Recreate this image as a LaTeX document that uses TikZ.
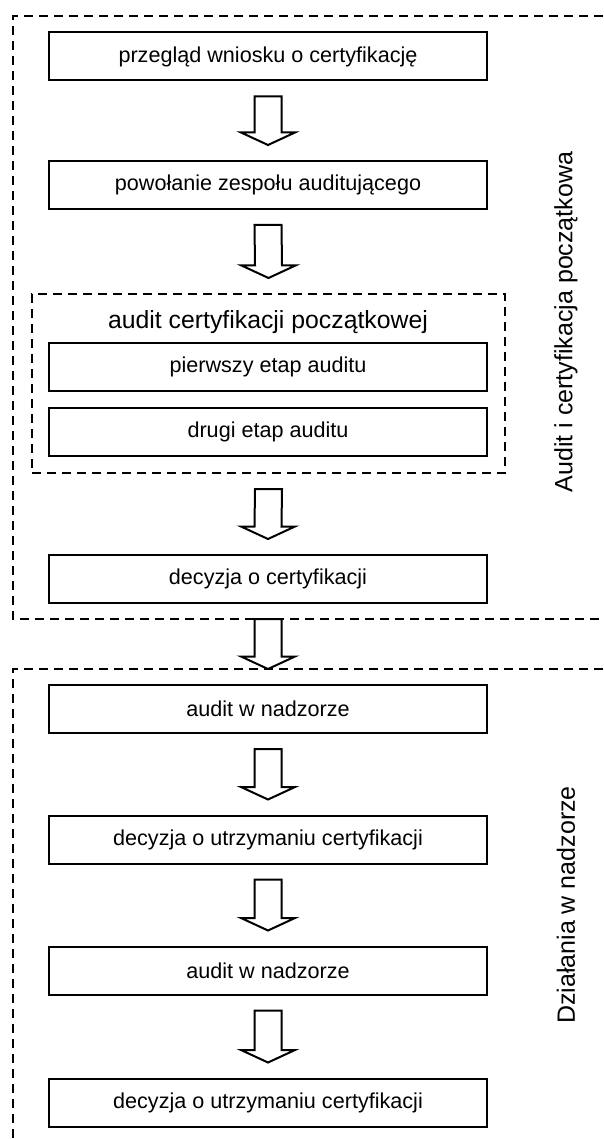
\documentclass[tikz,border=0pt]{standalone}
\usepackage{fontspec}
\setmainfont{Liberation Sans}
\usetikzlibrary{calc, positioning}

% hollow block arrow between two nodes
\newcommand{\blockarrow}[2]{%
    \coordinate (arrtop) at ($(#1.south)+(0,-15)$);
    \coordinate (arrtip) at ($(#2.north)+(0,15)$);
    \draw[blockarr] ($(arrtop)+(-13.5,0)$) -- ($(arrtip)+(-13.5,12.5)$) -- ($(arrtip)+(-27,12.5)$) -- (arrtip)
        -- ($(arrtip)+(27,12.5)$) -- ($(arrtip)+(13.5,12.5)$) -- ($(arrtop)+(13.5,0)$) -- cycle;
}

\begin{document}
\begin{tikzpicture}[
    x=1pt, y=1pt,
    stepbox/.style={rectangle, draw, line width=2pt, minimum width=438pt, minimum height=48pt, inner sep=0pt, align=center, font=\fontsize{21.6}{26}\selectfont},
    frameline/.style={draw, line width=2pt, dash pattern=on 9pt off 6pt},
    blockarr/.style={draw, line width=2pt, fill=white, line join=miter},
    sidelabel/.style={inner sep=0pt, font=\fontsize{25}{30}\selectfont}
]
    \useasboundingbox (0,0) rectangle (603,-1139);

    % outer frames, open to the right
    \draw[frameline] (603,-16) -- (13,-16) -- (13,-619) -- (603,-619);
    \draw[frameline] (603,-669) -- (13,-669) -- (13,-1139);

    % initial certification
    \node[stepbox] (review) at (268,-56.5) {przegląd wniosku o certyfikację};
    \node[stepbox] (team) at (268,-185) {powołanie zespołu auditującego};

    \node[frameline, rectangle, minimum width=473pt, minimum height=179pt] (initaudit) at (268.5,-383.5) {};
    \node[sidelabel, font=\fontsize{24.8}{30}\selectfont] (initaudittitle) at (268,-322) {audit certyfikacji początkowej};
    \node[stepbox] (stage1) at (268,-366.5) {pierwszy etap auditu};
    \node[stepbox] (stage2) at (268,-431.5) {drugi etap auditu};

    \node[stepbox] (decision) at (268,-579) {decyzja o certyfikacji};

    % surveillance
    \node[stepbox] (surv1) at (268,-709) {audit w nadzorze};
    \node[stepbox] (keep1) at (268,-839.5) {decyzja o utrzymaniu certyfikacji};
    \node[stepbox] (surv2) at (268,-970.5) {audit w nadzorze};
    \node[stepbox] (keep2) at (268,-1102.5) {decyzja o utrzymaniu certyfikacji};

    % side labels
    \node[sidelabel, rotate=90] (lblinit) at (566,-322) {Audit i certyfikacja początkowa};
    \node[sidelabel, rotate=90] (lblsurv) at (566,-905) {Działania w nadzorze};

    % arrows
    \blockarrow{review}{team}
    \blockarrow{team}{initaudit}
    \blockarrow{initaudit}{decision}
    \blockarrow{decision}{surv1}
    \blockarrow{surv1}{keep1}
    \blockarrow{keep1}{surv2}
    \blockarrow{surv2}{keep2}

\end{tikzpicture}
\end{document}
